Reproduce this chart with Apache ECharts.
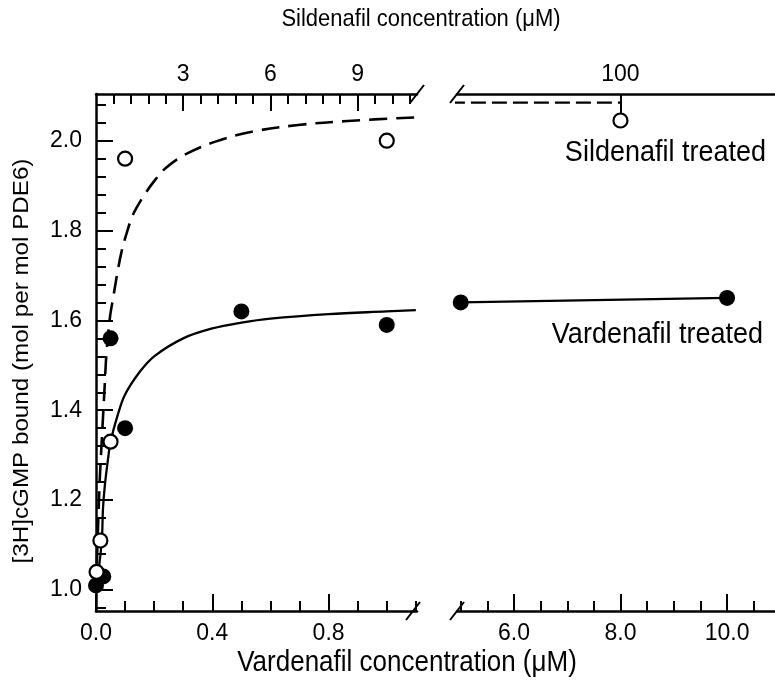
<!DOCTYPE html>
<html>
<head>
<meta charset="utf-8">
<script src="https://cdn.jsdelivr.net/npm/echarts@6/dist/echarts.min.js"></script>
<style>
html,body{margin:0;padding:0;background:#fff;}
#c{width:775px;height:689px;}
</style>
</head>
<body>
<div id="c"></div>
<script>
// ---- data ----
// Vardenafil treated (filled circles), x = vardenafil µM
const vardPointsLeft = [[0, 1.01], [0.025, 1.03], [0.05, 1.56], [0.1, 1.36], [0.5, 1.62], [1.0, 1.59]];
const vardPointsRight = [[5, 1.64], [10, 1.65]];
// Vardenafil fit curve (solid)
const vardFit = [[0, 1.0], [0.01, 1.05], [0.02, 1.11], [0.024, 1.18], [0.03, 1.23], [0.043, 1.30], [0.05, 1.33],
  [0.075, 1.39], [0.1, 1.435], [0.15, 1.485], [0.2, 1.52], [0.3, 1.56], [0.4, 1.582], [0.5, 1.595],
  [0.6, 1.604], [0.8, 1.614], [1.0, 1.62], [1.1, 1.623]];
// Sildenafil treated (open circles), x = sildenafil µM
const sildPointsLeft = [[0.02, 1.04], [0.15, 1.11], [0.5, 1.33], [1, 1.96], [10, 2.0]];
const sildPointsRight = [[100, 2.045]];
// Sildenafil fit curve (dashed)
const sildFit = [[0, 1.0], [0.06, 1.12], [0.125, 1.24], [0.18, 1.31], [0.3, 1.456], [0.36, 1.526], [0.48, 1.607],
  [0.59, 1.65], [0.73, 1.704], [0.875, 1.752], [1.05, 1.793], [1.27, 1.835], [1.61, 1.874], [2.0, 1.91],
  [2.41, 1.94], [3.09, 1.97], [4.11, 1.998], [5.36, 2.02], [6.95, 2.035], [8.66, 2.044], [11.0, 2.052]];
const sildFitRight = [[55, 2.085], [100, 2.085]];

// ---- ticks / labels ----
const yMajor = [1.0, 1.2, 1.4, 1.6, 1.8, 2.0];
const yMinor = [0.96, 1.04, 1.08, 1.12, 1.16, 1.24, 1.28, 1.32, 1.36, 1.44, 1.48, 1.52, 1.56, 1.64, 1.68, 1.72, 1.76, 1.84, 1.88, 1.92, 1.96, 2.04, 2.08];
const vardLeftMajor = [0, 0.4, 0.8];
const vardLeftMinor = [0.1, 0.2, 0.3, 0.5, 0.6, 0.7, 0.9, 1.0, 1.1];
const sildLeftMajor = [3, 6, 9];
const sildLeftMinor = [0.6, 1.2, 1.8, 2.4, 3.6, 4.2, 4.8, 5.4, 6.6, 7.2, 7.8, 8.4, 9.6, 10.2, 10.8];
const vardRightMajor = [6, 8, 10];
const vardRightMinor = [5, 5.5, 6.5, 7, 7.5, 8.5, 9, 9.5, 10.5];
const sildRightMajor = [100];

const FONT = '"Liberation Sans", Arial, sans-serif';
const W = 2.3;
const chart = echarts.init(document.getElementById('c'), null, {renderer: 'canvas'});

function xAx(o) {
  return Object.assign({
    type: 'value', splitLine: {show: false},
    axisLine: {show: true, onZero: false, lineStyle: {color: '#000', width: 2.5}},
    axisTick: {show: true, inside: true, length: 17, lineStyle: {color: '#000', width: 2}},
    axisLabel: {show: true, color: '#000', fontSize: 23, fontFamily: FONT, margin: 10}
  }, o);
}
const LBL = {color: '#000', fontSize: 23, fontFamily: FONT};

const yMin = 0.953, yMax = 2.104;
const option = {
  animation: false,
  backgroundColor: '#fff',
  grid: [
    {left: 96, top: 94, width: 321, height: 517},
    {left: 457, top: 94, width: 318, height: 517}
  ],
  xAxis: [
    xAx({gridIndex: 0, position: 'bottom', min: 0, max: 1.104,
      axisTick: {show: true, inside: true, length: 17, customValues: vardLeftMajor, lineStyle: {color: '#000', width: 2}},
      axisLabel: Object.assign({show: true, customValues: vardLeftMajor, margin: 11, formatter: v => v.toFixed(1)}, LBL)}),
    xAx({gridIndex: 0, position: 'bottom', min: 0, max: 1.104, axisLine: {show: false},
      axisTick: {show: true, inside: true, length: 10, customValues: vardLeftMinor, lineStyle: {color: '#000', width: 2}},
      axisLabel: {show: false}}),
    xAx({gridIndex: 0, position: 'top', min: 0, max: 11.04,
      axisTick: {show: true, inside: true, length: 17, customValues: sildLeftMajor, lineStyle: {color: '#000', width: 2}},
      axisLabel: Object.assign({show: true, customValues: sildLeftMajor, margin: 8}, LBL)}),
    xAx({gridIndex: 0, position: 'top', min: 0, max: 11.04, axisLine: {show: false},
      axisTick: {show: true, inside: true, length: 10, customValues: sildLeftMinor, lineStyle: {color: '#000', width: 2}},
      axisLabel: {show: false}}),
    xAx({gridIndex: 1, position: 'bottom', min: 4.93, max: 10.9,
      axisTick: {show: true, inside: true, length: 17, customValues: vardRightMajor, lineStyle: {color: '#000', width: 2}},
      axisLabel: Object.assign({show: true, customValues: vardRightMajor, margin: 11, formatter: v => v.toFixed(1)}, LBL)}),
    xAx({gridIndex: 1, position: 'bottom', min: 4.93, max: 10.9, axisLine: {show: false},
      axisTick: {show: true, inside: true, length: 10, customValues: vardRightMinor, lineStyle: {color: '#000', width: 2}},
      axisLabel: {show: false}}),
    xAx({gridIndex: 1, position: 'top', min: 61.6, max: 136.3,
      axisTick: {show: true, inside: true, length: 21, customValues: sildRightMajor, lineStyle: {color: '#000', width: 2}},
      axisLabel: Object.assign({show: true, customValues: sildRightMajor, margin: 8}, LBL)})
  ],
  yAxis: [
    {type: 'value', gridIndex: 0, position: 'left', min: yMin, max: yMax, splitLine: {show: false},
      axisLine: {show: true, onZero: false, lineStyle: {color: '#000', width: 2.5}},
      axisTick: {show: true, inside: true, length: 17, customValues: yMajor, lineStyle: {color: '#000', width: 2}},
      axisLabel: Object.assign({show: true, customValues: yMajor, margin: 14, formatter: v => v.toFixed(1)}, LBL)},
    {type: 'value', gridIndex: 0, position: 'left', min: yMin, max: yMax, splitLine: {show: false},
      axisLine: {show: false},
      axisTick: {show: true, inside: true, length: 10, customValues: yMinor, lineStyle: {color: '#000', width: 2}},
      axisLabel: {show: false}},
    {type: 'value', gridIndex: 1, min: yMin, max: yMax, show: false}
  ],
  series: [
    {type: 'line', name: 'vardFit', xAxisIndex: 0, yAxisIndex: 0, data: vardFit, smooth: 0.35, showSymbol: false, symbol: 'none',
      lineStyle: {color: '#000', width: W}, clip: true, z: 2},
    {type: 'line', name: 'sildFit', xAxisIndex: 2, yAxisIndex: 0, data: sildFit, smooth: 0.35, showSymbol: false, symbol: 'none',
      lineStyle: {color: '#000', width: W + 0.3, type: [18, 9]}, clip: true, z: 2},
    {type: 'line', name: 'sildFitR', xAxisIndex: 6, yAxisIndex: 2, data: sildFitRight, showSymbol: false, symbol: 'none',
      lineStyle: {color: '#000', width: W, type: [15, 6]}, clip: true, z: 2},
    {type: 'line', name: 'vardR', xAxisIndex: 4, yAxisIndex: 2, data: vardPointsRight, symbol: 'circle', symbolSize: 16, showSymbol: true,
      itemStyle: {color: '#000', opacity: 1}, lineStyle: {color: '#000', width: W}, z: 3},
    {type: 'scatter', name: 'vardL', xAxisIndex: 0, yAxisIndex: 0, data: vardPointsLeft, symbol: 'circle', symbolSize: 16,
      itemStyle: {color: '#000', opacity: 1}, z: 3},
    {type: 'scatter', name: 'sildL', xAxisIndex: 2, yAxisIndex: 0, data: sildPointsLeft, symbol: 'circle', symbolSize: 14,
      itemStyle: {color: '#fff', borderColor: '#000', borderWidth: 2.2, opacity: 1}, z: 4},
    {type: 'scatter', name: 'sildR', xAxisIndex: 6, yAxisIndex: 2, data: sildPointsRight, symbol: 'circle', symbolSize: 14,
      itemStyle: {color: '#fff', borderColor: '#000', borderWidth: 2.2, opacity: 1}, z: 4}
  ]
};
chart.setOption(option);

// break marks and texts
const g = [];
function slash(px, py) {
  g.push({type: 'line', shape: {x1: px - 7, y1: py + 9, x2: px + 7, y2: py - 9}, style: {stroke: '#000', lineWidth: 2}, z: 10});
}
const lt = chart.convertToPixel({xAxisIndex: 0, yAxisIndex: 0}, [1.104, yMax]);
const lb = chart.convertToPixel({xAxisIndex: 0, yAxisIndex: 0}, [1.104, yMin]);
const rt = chart.convertToPixel({xAxisIndex: 4, yAxisIndex: 2}, [4.93, yMax]);
const rb = chart.convertToPixel({xAxisIndex: 4, yAxisIndex: 2}, [4.93, yMin]);
slash(lt[0], lt[1]); slash(lb[0] - 4, lb[1]); slash(rt[0], rt[1]); slash(rb[0], rb[1]);
function txt(s, x, y, size, align, rot) {
  g.push({type: 'text', x: x, y: y, rotation: rot || 0, scaleX: rot ? 1.1 : 1, scaleY: rot ? 1 : 1.1,
    style: {text: s, fill: '#000', font: size + 'px ' + FONT, align: align, verticalAlign: 'middle'}, z: 10});
}
txt('Sildenafil concentration (μM)', 421, 19, 22, 'center');
txt('Vardenafil concentration (μM)', 407, 663, 26, 'center');
txt('Sildenafil treated', 766, 153, 27, 'right');
txt('Vardenafil treated', 763, 335, 27, 'right');
txt('[3H]cGMP bound (mol per mol PDE6)', 22, 361, 22, 'center', Math.PI / 2);
chart.setOption({graphic: g});
</script>
</body>
</html>
